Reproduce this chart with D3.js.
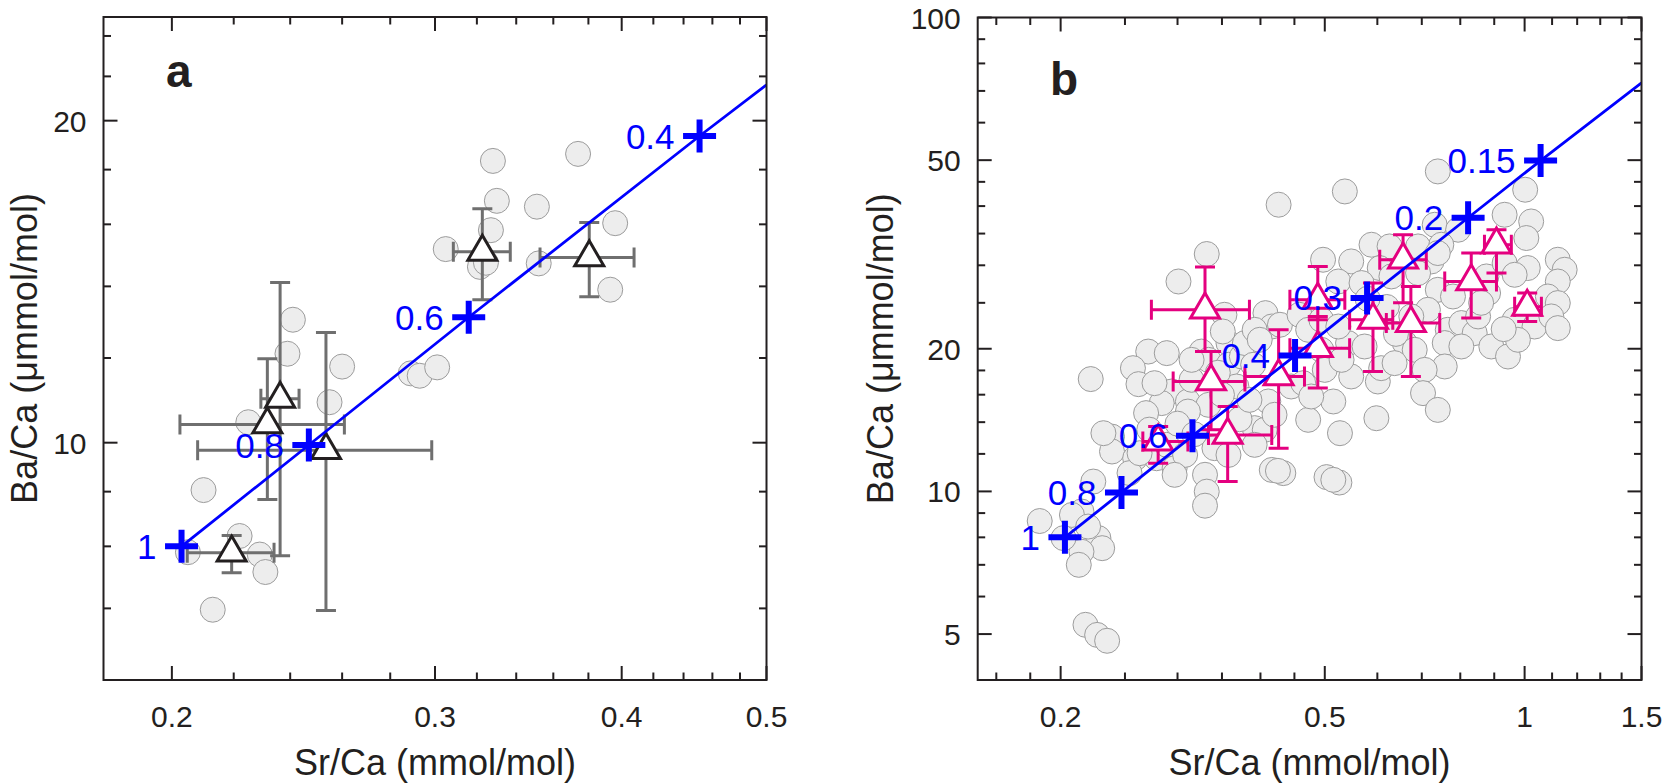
<!DOCTYPE html>
<html>
<head>
<meta charset="utf-8">
<script src="https://cdn.jsdelivr.net/npm/d3@7/dist/d3.min.js"></script>
<style>
  html, body { margin: 0; padding: 0; background: #ffffff; }
  svg { display: block; }
</style>
</head>
<body>
<svg id="chart" width="1664" height="784"></svg>
<script>
// ---------------- DATA ----------------
// Panel a: axes
const aSrDomain = [0.18, 0.5];
const aBaDomain = [6, 25];
const aXMajor = [0.2, 0.3, 0.4, 0.5];
const aXMinor = [0.22, 0.24, 0.26, 0.28, 0.32, 0.34, 0.36, 0.38, 0.42, 0.44, 0.46, 0.48];
const aYMajor = [10, 20];
const aYMinor = [7, 8, 9, 12, 14, 16, 18, 22, 24];
const aXLabels = ["0.2", "0.3", "0.4", "0.5"];
const aYLabels = ["10", "20"];

// Panel a: grey circles (Sr/Ca, Ba/Ca)
const aCircSr = [0.328, 0.374, 0.330, 0.351, 0.327, 0.305, 0.396, 0.3215, 0.3245, 0.352, 0.393,
                 0.241, 0.239, 0.260, 0.255, 0.289, 0.293, 0.301, 0.225, 0.210, 0.222, 0.205,
                 0.229, 0.231, 0.213];
const aCircBa = [18.34, 18.62, 16.83, 16.62, 15.80, 15.17, 16.04, 14.60, 14.73, 14.71, 13.90,
                 13.03, 12.11, 11.78, 10.91, 11.61, 11.55, 11.76, 10.45, 9.03, 8.18, 7.90,
                 7.86, 7.57, 6.98];

// Panel a: triangles with error bars
const aTriSr   = [0.3227, 0.3805, 0.2363, 0.2317, 0.2536, 0.2193];
const aTriSrLo = [0.3086, 0.3527, 0.2294, 0.2025, 0.2081, 0.2048];
const aTriSrHi = [0.3369, 0.4077, 0.2433, 0.2609, 0.2985, 0.2341];
const aTriBa   = [15.08, 14.90, 10.99, 10.40, 9.84, 7.89];
const aTriBaLo = [13.60, 13.69, 7.84, 8.85, 6.97, 7.56];
const aTriBaHi = [16.55, 16.06, 14.12, 11.98, 12.68, 8.19];

// Panel b: axes
const bSrDomain = [0.15, 1.5];
const bBaDomain = [4, 100];
const bXMajor = [0.2, 0.5, 1, 1.5];
const bXMinor = [0.16, 0.18, 0.25, 0.3, 0.35, 0.4, 0.45, 0.6, 0.7, 0.8, 0.9, 1.1, 1.2, 1.3, 1.4];
const bYMajor = [5, 10, 20, 50, 100];
const bYMinor = [6, 7, 8, 9, 12, 14, 16, 18, 25, 30, 35, 40, 45, 60, 70, 80, 90];
const bXLabels = ["0.2", "0.5", "1", "1.5"];
const bYLabels = ["5", "10", "20", "50", "100"];

// Panel b: grey circles
const bCircSr = [
  0.271, 0.289, 0.257, 0.262, 0.222, 0.326, 0.334, 0.294, 0.284, 0.269, 0.311, 0.334, 0.239, 0.239,
  0.259, 0.254, 0.279, 0.297, 0.330, 0.332, 0.330, 0.392, 0.406, 0.411, 0.416, 0.433, 0.425, 0.472,
  0.224, 0.215, 0.208, 0.186, 0.228, 0.231, 0.215, 0.213, 0.202, 0.220, 0.218, 0.227, 0.235, 0.289,
  0.308, 0.341, 0.358, 0.311, 0.297, 0.232, 0.263, 0.420,
  0.426, 0.332, 0.301, 0.353, 0.358, 0.351, 0.407, 0.416, 0.428, 0.458, 0.472, 0.358, 0.375, 0.315,
  0.368, 0.392, 0.445, 0.464, 0.379, 0.390, 0.277, 0.315, 0.392,
  0.740, 0.536, 1.002, 0.933, 1.023, 1.006, 0.732, 0.794, 0.588, 0.626, 0.691, 0.749, 0.497, 0.548,
  0.605, 0.724, 0.524, 0.568, 0.630, 0.691, 0.740, 0.876, 0.933, 1.011, 0.966, 1.122, 1.149, 1.122,
  0.780, 0.881, 1.084, 1.122, 0.966, 1.035, 1.097, 1.122, 0.715, 0.675, 0.766, 0.803, 0.841, 0.891,
  0.944, 0.977, 0.758, 0.803, 0.758, 0.660, 0.683, 0.542, 0.494, 0.548, 0.601, 0.608, 0.500, 0.707,
  0.703, 0.740, 0.515, 0.598, 0.527, 0.494, 0.524, 0.740, 0.851, 0.637, 0.574, 0.530, 0.477,
  0.503, 0.526, 0.515,
  0.399, 0.300, 0.318, 0.372, 0.385, 0.272, 0.350, 0.345, 0.620, 0.580, 0.860, 0.930, 0.640];
const bCircBa = [
  19.73, 19.58, 18.20, 16.84, 17.26, 19.73, 18.95, 16.25, 15.36, 14.63, 15.48, 15.23, 13.05, 12.14,
  11.75, 10.93, 11.75, 11.20, 10.84, 9.99, 9.33, 13.60, 13.49, 15.48, 11.10, 10.93, 11.05, 14.16,
  10.49, 9.07, 8.92, 8.66, 7.97, 7.59, 7.46, 7.00, 7.97, 8.43, 5.23, 4.98, 4.84, 12.54,
  11.94, 12.34, 11.94, 14.74, 10.84, 13.27, 12.04, 14.51,
  40.27, 31.69, 27.73, 23.59, 20.56, 21.75, 23.78, 22.28, 22.47, 23.59, 21.93, 18.50, 19.26, 17.20,
  16.65, 12.54, 16.65, 16.92, 20.56, 18.50, 16.92, 18.95, 21.93,
  47.34, 42.95, 43.31, 38.35, 37.12, 34.25, 36.53, 35.66, 33.15, 32.88, 32.88, 33.15, 30.82, 30.57,
  29.60, 30.57, 27.73, 27.52, 28.42, 28.89, 26.63, 28.42, 30.33, 29.60, 28.65, 30.82, 29.36, 27.73,
  25.78, 26.21, 25.78, 24.97, 23.02, 22.28, 23.40, 22.11, 24.17, 23.40, 21.93, 22.66, 21.58, 20.22,
  19.26, 20.89, 20.56, 20.22, 18.35, 20.56, 19.90, 20.56, 19.90, 17.48, 17.06, 18.20, 18.05, 18.05,
  16.12, 14.86, 15.48, 14.27, 13.27, 23.02, 22.28, 31.84, 23.40, 18.65, 20.22, 18.95, 15.86,
  10.72, 10.44, 10.58,
  20.89, 13.90, 13.20, 14.20, 15.60, 13.50, 16.00, 17.80, 24.50, 25.50, 25.00, 22.00, 21.50];

// Panel b: pink triangles with error bars
const bTriSr   = [0.330, 0.337, 0.426, 0.357, 0.2805, 0.656, 0.907, 0.831, 1.009, 0.674, 0.591, 0.488, 0.488];
const bTriSrLo = [0.274, 0.2955, 0.379, 0.334, 0.266, 0.605, 0.870, 0.758, 0.966, 0.619, 0.545, 0.443, 0.443];
const bTriSrHi = [0.385, 0.379, 0.466, 0.416, 0.311, 0.711, 0.955, 0.907, 1.060, 0.745, 0.633, 0.536, 0.545];
const bTriBa   = [24.17, 17.06, 17.48, 13.16, 12.74, 30.82, 33.15, 27.73, 24.52, 22.66, 23.02, 25.37, 20.06];
const bTriBaLo = [19.73, 13.49, 12.34, 10.49, 11.47, 25.0, 28.89, 23.21, 22.83, 17.48, 17.91, 23.02, 16.52];
const bTriBaHi = [29.74, 19.73, 21.93, 15.10, 13.70, 34.80, 35.66, 31.84, 26.21, 27.07, 27.52, 29.83, 23.40];

// Mixing model (blue line with crosses)
const mixLabels = ["1", "0.8", "0.6", "0.4", "0.3", "0.2", "0.15"];
const mixSr = [0.203, 0.247, 0.316, 0.451, 0.579, 0.822, 1.057];
const mixBa = [8.0, 9.95, 13.1, 19.35, 25.6, 37.8, 49.9];
const aLineEnd = [0.5, 21.6];
const bLineEnd = [1.5, 72.8];

// Text
const xTitle = "Sr/Ca (mmol/mol)";
const yTitle = "Ba/Ca (μmmol/mol)";

// ---------------- STYLE / LAYOUT ----------------
const FONT = "'Liberation Sans', Arial, Helvetica, sans-serif";
const INK = "#231f20";
const BLUE = "#0000ff";
const PINK = "#e4007f";
const GREYBAR = "#6f6f6f";

const svg = d3.select("#chart");

const panels = [
  {
    letter: "a", letterX: 166, letterY: 87,
    xRange: [103.5, 766.5], yRange: [680, 17],
    xDomain: aSrDomain, yDomain: aBaDomain,
    xMajor: aXMajor, xMinor: aXMinor, yMajor: aYMajor, yMinor: aYMinor,
    xLabels: aXLabels, yLabels: aYLabels,
    circSr: aCircSr, circBa: aCircBa,
    triSr: aTriSr, triSrLo: aTriSrLo, triSrHi: aTriSrHi,
    triBa: aTriBa, triBaLo: aTriBaLo, triBaHi: aTriBaHi,
    barColor: GREYBAR, triColor: INK,
    lineEnd: aLineEnd, yTitleX: 37
  },
  {
    letter: "b", letterX: 1050, letterY: 95,
    xRange: [977.7, 1641.5], yRange: [680, 17.5],
    xDomain: bSrDomain, yDomain: bBaDomain,
    xMajor: bXMajor, xMinor: bXMinor, yMajor: bYMajor, yMinor: bYMinor,
    xLabels: bXLabels, yLabels: bYLabels,
    circSr: bCircSr, circBa: bCircBa,
    triSr: bTriSr, triSrLo: bTriSrLo, triSrHi: bTriSrHi,
    triBa: bTriBa, triBaLo: bTriBaLo, triBaHi: bTriBaHi,
    barColor: PINK, triColor: PINK,
    lineEnd: bLineEnd, yTitleX: 893
  }
];

const MAJ = 14, MIN = 7.5, CAP = 10;
const TRI_W = 29, TRI_H = 25;
const triPath = `M0,${-2 * TRI_H / 3}L${TRI_W / 2},${TRI_H / 3}L${-TRI_W / 2},${TRI_H / 3}Z`;

panels.forEach(p => {
  const sx = d3.scaleLog().domain(p.xDomain).range(p.xRange);
  const sy = d3.scaleLog().domain(p.yDomain).range(p.yRange);
  const [xl, xr] = p.xRange;
  const [yb, yt] = p.yRange;
  const g = svg.append("g");

  const clipId = "clip-" + p.letter;
  svg.append("clipPath").attr("id", clipId)
    .append("rect").attr("x", xl).attr("y", yt).attr("width", xr - xl).attr("height", yb - yt);
  const dg = g.append("g").attr("clip-path", `url(#${clipId})`);

  // grey circles
  dg.append("g").selectAll("circle")
    .data(d3.range(p.circSr.length))
    .join("circle")
    .attr("cx", i => sx(p.circSr[i]))
    .attr("cy", i => sy(p.circBa[i]))
    .attr("r", 12.5)
    .attr("fill", "#ededed")
    .attr("stroke", "#9c9c9c")
    .attr("stroke-width", 1);

  // error bars
  const eb = dg.append("g").attr("stroke", p.barColor).attr("stroke-width", 3).attr("fill", "none");
  p.triSr.forEach((v, i) => {
    const cx = sx(v), cy = sy(p.triBa[i]);
    const x0 = sx(p.triSrLo[i]), x1 = sx(p.triSrHi[i]);
    const y0 = sy(p.triBaLo[i]), y1 = sy(p.triBaHi[i]);
    eb.append("path").attr("d",
      `M${x0},${cy}H${x1}M${x0},${cy - CAP}V${cy + CAP}M${x1},${cy - CAP}V${cy + CAP}` +
      `M${cx},${y0}V${y1}M${cx - CAP},${y0}H${cx + CAP}M${cx - CAP},${y1}H${cx + CAP}`);
  });

  // triangles
  dg.append("g").selectAll("path")
    .data(d3.range(p.triSr.length))
    .join("path")
    .attr("d", triPath)
    .attr("transform", i => `translate(${sx(p.triSr[i])},${sy(p.triBa[i])})`)
    .attr("fill", "#ffffff")
    .attr("stroke", p.triColor)
    .attr("stroke-width", 3)
    .attr("stroke-linejoin", "miter");

  // mixing line
  const idx = d3.range(mixSr.length).filter(i => mixSr[i] >= p.xDomain[0] && mixSr[i] <= p.xDomain[1]);
  const linePts = idx.map(i => [mixSr[i], mixBa[i]]).concat([p.lineEnd]);
  dg.append("path")
    .datum(linePts)
    .attr("d", d3.line().x(d => sx(d[0])).y(d => sy(d[1])))
    .attr("fill", "none")
    .attr("stroke", BLUE)
    .attr("stroke-width", 2.8);

  // crosses
  const cr = g.append("g").attr("stroke", BLUE).attr("stroke-width", 6).attr("fill", "none");
  idx.forEach(i => {
    const cx = sx(mixSr[i]), cy = sy(mixBa[i]);
    cr.append("path").attr("d", `M${cx - 16.5},${cy}H${cx + 16.5}M${cx},${cy - 16.5}V${cy + 16.5}`);
  });
  g.append("g").selectAll("text")
    .data(idx)
    .join("text")
    .attr("x", i => sx(mixSr[i]) - 25)
    .attr("y", i => sy(mixBa[i]) + 12.5)
    .attr("text-anchor", "end")
    .attr("font-family", FONT)
    .attr("font-size", 35)
    .attr("fill", BLUE)
    .text(i => mixLabels[i]);

  // ticks
  const tk = g.append("g").attr("stroke", INK).attr("stroke-width", 2);
  const line = (x1, y1, x2, y2) => tk.append("line").attr("x1", x1).attr("y1", y1).attr("x2", x2).attr("y2", y2);
  p.xMajor.forEach(v => { const x = sx(v); line(x, yb, x, yb - MAJ); line(x, yt, x, yt + MAJ); });
  p.xMinor.forEach(v => { const x = sx(v); line(x, yb, x, yb - MIN); line(x, yt, x, yt + MIN); });
  p.yMajor.forEach(v => { const y = sy(v); line(xl, y, xl + MAJ, y); line(xr, y, xr - MAJ, y); });
  p.yMinor.forEach(v => { const y = sy(v); line(xl, y, xl + MIN, y); line(xr, y, xr - MIN, y); });

  // frame
  g.append("rect")
    .attr("x", xl).attr("y", yt).attr("width", xr - xl).attr("height", yb - yt)
    .attr("fill", "none").attr("stroke", INK).attr("stroke-width", 2);

  // tick labels
  g.append("g").selectAll("text")
    .data(p.xMajor)
    .join("text")
    .attr("x", d => sx(d))
    .attr("y", 727)
    .attr("text-anchor", "middle")
    .attr("font-family", FONT).attr("font-size", 30).attr("fill", INK)
    .text((d, i) => p.xLabels[i]);
  g.append("g").selectAll("text")
    .data(p.yMajor)
    .join("text")
    .attr("x", xl - 17)
    .attr("y", d => sy(d) + 11)
    .attr("text-anchor", "end")
    .attr("font-family", FONT).attr("font-size", 30).attr("fill", INK)
    .text((d, i) => p.yLabels[i]);

  // axis titles
  g.append("text")
    .attr("x", (xl + xr) / 2).attr("y", 775)
    .attr("text-anchor", "middle")
    .attr("font-family", FONT).attr("font-size", 36).attr("fill", INK)
    .text(xTitle);
  g.append("text")
    .attr("transform", `translate(${p.yTitleX},${(yb + yt) / 2}) rotate(-90)`)
    .attr("text-anchor", "middle")
    .attr("font-family", FONT).attr("font-size", 36).attr("fill", INK)
    .text(yTitle);

  // panel letter
  g.append("text")
    .attr("x", p.letterX).attr("y", p.letterY)
    .attr("font-family", FONT).attr("font-size", 46).attr("font-weight", "bold").attr("fill", INK)
    .text(p.letter);
});
</script>
</body>
</html>
